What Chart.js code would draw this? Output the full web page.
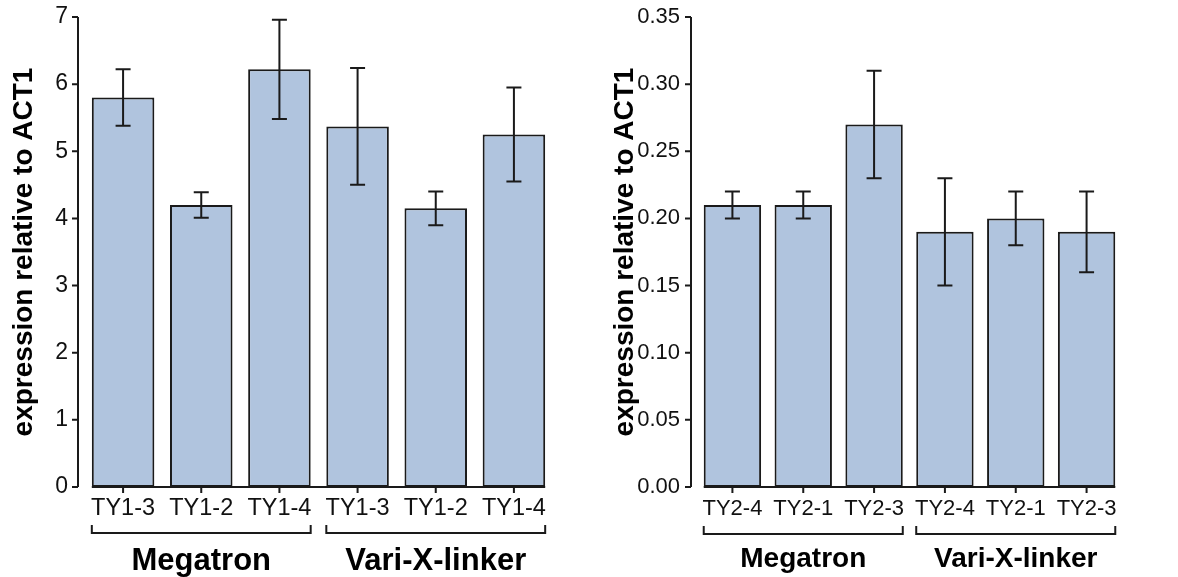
<!DOCTYPE html>
<html lang="en">
<head>
  <meta charset="UTF-8">
  <title>Expression relative to ACT1</title>
  <script src="https://cdn.jsdelivr.net/npm/chart.js"></script>
  <style>
    body { margin: 0; background: #fff; }
    #wrap { position: relative; width: 1178px; height: 577px; }
    canvas { position: absolute; top: 0; }
    #leftChart { left: 0; }
    #rightChart { left: 600px; }
  </style>
</head>
<body>
  <div id="wrap">
    <canvas id="leftChart" width="600" height="577"></canvas>
    <canvas id="rightChart" width="578" height="577"></canvas>
  </div>

  <script>
    // left panel (TY1 lines)
    const leftCategories = ['TY1-3', 'TY1-2', 'TY1-4', 'TY1-3', 'TY1-2', 'TY1-4'];
    const leftValues = [5.8, 4.2, 6.22, 5.37, 4.15, 5.25];
    const leftErrors = [0.42, 0.19, 0.74, 0.87, 0.25, 0.70];
    const leftTicks = ['0', '1', '2', '3', '4', '5', '6', '7'];

    // right panel (TY2 lines)
    const rightCategories = ['TY2-4', 'TY2-1', 'TY2-3', 'TY2-4', 'TY2-1', 'TY2-3'];
    const rightValues = [0.21, 0.21, 0.27, 0.19, 0.20, 0.19];
    const rightErrors = [0.01, 0.01, 0.04, 0.04, 0.02, 0.03];
    const rightTicks = ['0.00', '0.05', '0.10', '0.15', '0.20', '0.25', '0.30', '0.35'];

    const groupNames = ['Megatron', 'Vari-X-linker'];
    const groupSizes = [3, 3];

    const FONT = "'Liberation Sans', Arial, Helvetica, sans-serif";
    const INK = '#1a1a1a';

    // draws axis lines, tick marks, error bars and group brackets
    const decorations = {
      id: 'decorations',
      afterDatasetsDraw(chart, args, opts) {
        const ctx = chart.ctx;
        const y = chart.scales.y;
        const bars = chart.getDatasetMeta(0).data;
        const base = y.getPixelForValue(0);

        ctx.save();
        ctx.strokeStyle = INK;
        ctx.lineWidth = 2;

        // error bars
        bars.forEach((bar, i) => {
          const v = opts.values[i], e = opts.errors[i];
          const top = y.getPixelForValue(v + e);
          const bot = y.getPixelForValue(v - e);
          ctx.beginPath();
          ctx.moveTo(bar.x, top); ctx.lineTo(bar.x, bot);
          ctx.moveTo(bar.x - 7.5, top); ctx.lineTo(bar.x + 7.5, top);
          ctx.moveTo(bar.x - 7.5, bot); ctx.lineTo(bar.x + 7.5, bot);
          ctx.stroke();
        });

        // y axis with ticks
        const ax = chart.chartArea.left - 6;
        ctx.beginPath();
        ctx.moveTo(ax, y.getPixelForValue(y.max));
        ctx.lineTo(ax, base);
        y.ticks.forEach(t => {
          const py = y.getPixelForValue(t.value);
          ctx.moveTo(ax - 6, py); ctx.lineTo(ax, py);
        });
        ctx.stroke();

        // x axis from first to last bar
        const first = bars[0], last = bars[bars.length - 1];
        ctx.beginPath();
        ctx.moveTo(first.x - first.width / 2, base);
        ctx.lineTo(last.x + last.width / 2, base);
        bars.forEach(b => { ctx.moveTo(b.x, base); ctx.lineTo(b.x, base + 6); });
        ctx.stroke();

        // brackets + group names
        let start = 0;
        groupNames.forEach((name, g) => {
          const a = bars[start], b = bars[start + groupSizes[g] - 1];
          const x0 = a.x - a.width / 2, x1 = b.x + b.width / 2;
          const by = base + opts.bracketY;
          ctx.beginPath();
          ctx.moveTo(x0, by - 8); ctx.lineTo(x0, by);
          ctx.lineTo(x1, by); ctx.lineTo(x1, by - 8);
          ctx.stroke();
          ctx.fillStyle = '#000';
          ctx.font = 'bold ' + opts.groupFont + 'px ' + FONT;
          ctx.textAlign = 'center';
          ctx.textBaseline = 'middle';
          ctx.fillText(name, (x0 + x1) / 2, base + opts.labelY);
          start += groupSizes[g];
        });
        ctx.restore();
      }
    };

    function makeChart(id, cfg) {
      return new Chart(document.getElementById(id), {
        type: 'bar',
        data: {
          labels: cfg.categories,
          datasets: [{
            data: cfg.values,
            backgroundColor: '#b0c4de',
            borderColor: INK,
            borderWidth: 2,
            borderSkipped: false,
            categoryPercentage: 1,
            barPercentage: cfg.barPct
          }]
        },
        options: {
          responsive: false,
          animation: false,
          layout: { padding: { top: 17, right: cfg.padRight, bottom: 0, left: 0 } },
          plugins: {
            legend: { display: false },
            tooltip: { enabled: false },
            decorations: {
              values: cfg.values,
              errors: cfg.errors,
              bracketY: cfg.bracketY,
              labelY: cfg.labelY,
              groupFont: cfg.groupFont
            }
          },
          scales: {
            x: {
              grid: { display: false, drawTicks: false },
              border: { display: false },
              ticks: {
                color: '#111',
                padding: cfg.xPad,
                autoSkip: false,
                maxRotation: 0,
                font: { family: FONT, size: cfg.xFont }
              },
              afterFit: s => { s.height = 90; s.paddingLeft = 0; s.paddingRight = 0; }
            },
            y: {
              min: 0,
              max: cfg.yMax,
              grid: { display: false, drawTicks: false },
              border: { display: false },
              ticks: {
                stepSize: cfg.yStep,
                color: '#111',
                padding: cfg.yPad,
                font: { family: FONT, size: cfg.yFont },
                callback: (v, i) => cfg.ticks[i] !== undefined ? cfg.ticks[i] : v
              },
              title: {
                display: true,
                text: 'expression relative to ACT1',
                color: '#000',
                font: { family: FONT, size: 28, weight: 'bold' },
                padding: { top: cfg.titlePad, bottom: 0 }
              },
              afterFit: s => { s.width = cfg.axisWidth; s.paddingTop = 0; s.paddingBottom = 0; }
            }
          }
        },
        plugins: [decorations]
      });
    }

    makeChart('leftChart', {
      categories: leftCategories, values: leftValues, errors: leftErrors, ticks: leftTicks,
      yMax: 7, yStep: 1, barPct: 0.8, axisWidth: 84, padRight: 47,
      xPad: 7, xFont: 23.5, yPad: 16, yFont: 23, titlePad: 7,
      bracketY: 46, labelY: 74, groupFont: 31
    });

    makeChart('rightChart', {
      categories: rightCategories, values: rightValues, errors: rightErrors, ticks: rightTicks,
      yMax: 0.35, yStep: 0.05, barPct: 0.81, axisWidth: 97, padRight: 56,
      xPad: 9, xFont: 22, yPad: 17, yFont: 22, titlePad: 8,
      bracketY: 47, labelY: 72, groupFont: 28
    });
  </script>
</body>
</html>
